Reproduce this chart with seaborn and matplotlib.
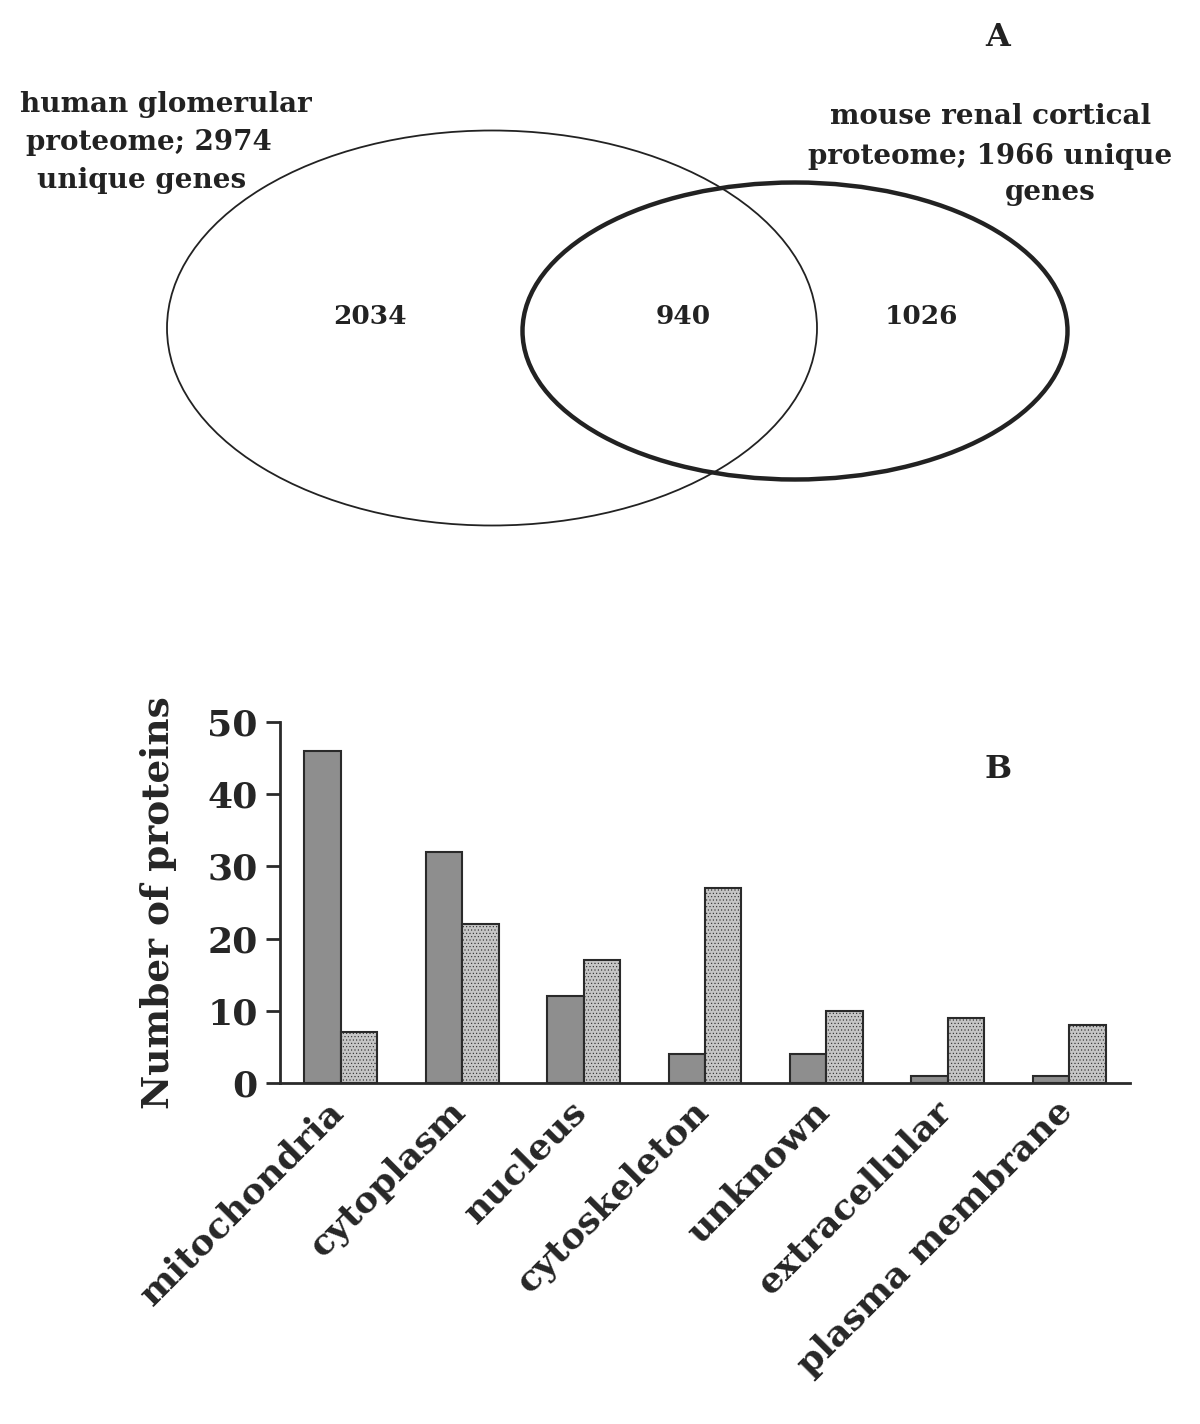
import numpy as np
import pandas as pd
import matplotlib
matplotlib.use("Agg")
import matplotlib.pyplot as plt
import matplotlib.transforms as mtransforms
from matplotlib.patches import Ellipse
import seaborn as sns

# Venn counts (human only, shared, mouse only)
venn_counts = [2034, 940, 1026]
human_label = ["human glomerular", "proteome; 2974", "unique genes"]
mouse_label = ["mouse renal cortical", "proteome; 1966 unique", "genes"]

# Bar chart data
locations = ["mitochondria", "cytoplasm", "nucleus", "cytoskeleton",
             "unknown", "extracellular", "plasma membrane"]
series_a = [46, 32, 12, 4, 4, 1, 1]
series_b = [7, 22, 17, 27, 10, 9, 8]

sns.set_style("white")
plt.rcParams['font.family'] = ['DejaVu Serif']
plt.rcParams['font.weight'] = 'bold'
plt.rcParams['hatch.linewidth'] = 0.4

fig = plt.figure(figsize=(12, 14.24), dpi=100)

# ---- Panel A: Venn diagram drawn in pixel coordinates ----
ax_v = fig.add_axes([0, 0, 1, 1])
ax_v.set_xlim(0, 1200)
ax_v.set_ylim(1424, 0)
ax_v.axis('off')

ax_v.add_patch(Ellipse((492, 328), 650, 395, fill=False, edgecolor='#222222', linewidth=1.3))
ax_v.add_patch(Ellipse((795, 331), 545, 297, fill=False, edgecolor='#222222', linewidth=3.2))

for x, n in zip([370, 683, 921], venn_counts):
    ax_v.text(x, 316, str(n), ha='center', va='center', fontsize=19, color='#222222')

for (x, y), line in zip([(166, 105), (149, 143), (142, 181)], human_label):
    ax_v.text(x, y, line, ha='center', va='center', fontsize=20, color='#222222')
for (x, y), line in zip([(991, 117), (990, 156), (1050, 193)], mouse_label):
    ax_v.text(x, y, line, ha='center', va='center', fontsize=20, color='#222222')

ax_v.text(998, 37, "A", ha='center', va='center', fontsize=23, color='#222222')
ax_v.text(998, 770, "B", ha='center', va='center', fontsize=23, color='#222222')

# ---- Panel B: grouped bar chart ----
df = pd.DataFrame({
    'location': locations * 2,
    'count': series_a + series_b,
    'group': ['a'] * len(locations) + ['b'] * len(locations),
})

ax = fig.add_axes([0.2333, 0.2395, 0.7083, 0.2535])
sns.barplot(data=df, x='location', y='count', hue='group',
            palette=['#8e8e8e', '#c6c6c6'], width=0.6, dodge=True,
            edgecolor='#2a2a2a', linewidth=1.5, legend=False, ax=ax)
for bar in ax.containers[1]:
    bar.set_hatch('.....')

ax.set_ylim(0, 50)
ax.set_yticks([0, 10, 20, 30, 40, 50])
ax.set_xlim(-0.5, 6.5)
ax.set_xlabel('')
ax.set_ylabel('Number of proteins', fontsize=27, fontweight='bold', labelpad=22)
sns.despine(ax=ax)
for s in ['left', 'bottom']:
    ax.spines[s].set_linewidth(2)
    ax.spines[s].set_color('#2a2a2a')
ax.tick_params(axis='y', length=10, width=2, labelsize=26, left=True, color='#2a2a2a', pad=6)
ax.tick_params(axis='x', length=0, labelsize=26, pad=8)
shift = mtransforms.ScaledTranslation(-14 / 100, 0, fig.dpi_scale_trans)
for lab in ax.get_xticklabels():
    lab.set_rotation(45)
    lab.set_ha('right')
    lab.set_rotation_mode('anchor')
    lab.set_transform(lab.get_transform() + shift)
ax.patch.set_alpha(0)

fig.savefig('out.png', dpi=100, facecolor='white')
